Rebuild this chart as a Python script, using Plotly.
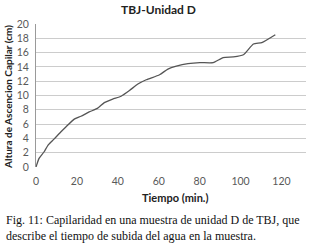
import plotly.graph_objects as go

tiempo = [0, 1.5, 3.9, 6.0, 8.8, 12.1, 14.6, 18.7, 22, 26, 30, 33.4, 37.5, 41.6, 45.7, 49.8, 53.9,
          60.4, 64.5, 68.6, 74.3, 80.1, 86.6, 91.5, 96.5, 101.4, 106.3, 110.4, 117]
altura = [0, 1.2, 2.1, 3.1, 3.9, 4.9, 5.6, 6.7, 7.1, 7.7, 8.2, 9.0, 9.5, 9.9, 10.7, 11.6, 12.2,
          12.9, 13.7, 14.1, 14.45, 14.6, 14.6, 15.3, 15.4, 15.7, 17.2, 17.4, 18.5]
x_ticks = [0, 20, 40, 60, 80, 100, 120]
y_ticks = [0, 2, 4, 6, 8, 10, 12, 14, 16, 18, 20]

W, H = 310, 251
L, R, T, B = 36, 4, 24, 84
ph = H - T - B

def py(p):
    return (H - B - p) / ph

def px(p):
    return (p - L) / (W - L - R)

fig = go.Figure(go.Scatter(x=tiempo, y=altura, mode="lines",
                           line=dict(color="#555555", width=1.3, shape="spline", smoothing=0.5),
                           showlegend=False))

tickfont = dict(family="Lato, Open Sans, sans-serif", size=10.5, color="#595959")
fig.update_layout(
    width=W, height=H, margin=dict(l=L, r=R, t=T, b=B),
    paper_bgcolor="white", plot_bgcolor="white",
    xaxis=dict(range=[0, 132], tickvals=x_ticks, showgrid=False, zeroline=False,
               showline=False, tickfont=tickfont, ticks="", ticklen=0, ticklabelstandoff=6),
    yaxis=dict(range=[0, 20], tickvals=y_ticks, showgrid=True, gridcolor="#cccccc", gridwidth=1,
               zeroline=False, showline=True, linecolor="#9a9a9a", linewidth=1,
               tickfont=tickfont, ticks="", ticklen=0, ticklabelstandoff=4),
    annotations=[
        dict(text="<b>TBJ-Unidad D</b>", x=px(158), y=py(9), xref="paper", yref="paper",
             xanchor="center", yanchor="middle",
             showarrow=False, font=dict(family="Lato, Open Sans, sans-serif", size=12, color="#222222")),
        dict(text="<b>Tiempo (min.)</b>", x=px(175), y=py(197), xref="paper", yref="paper",
             xanchor="center", yanchor="middle",
             showarrow=False, font=dict(family="Lato, Open Sans, sans-serif", size=11, color="#222222")),
        dict(text="<b>Altura de Ascencion Capilar (cm)</b>", x=px(8), y=py(97), xref="paper", yref="paper",
             xanchor="center", yanchor="middle",
             showarrow=False, textangle=-90,
             font=dict(family="Lato, Open Sans, sans-serif", size=10, color="#222222")),
        dict(text="Fig. 11: Capilaridad en una muestra de unidad D de TBJ, que<br>describe el tiempo de subida del agua en la muestra.",
             x=px(4), y=py(211), xref="paper", yref="paper", xanchor="left", yanchor="top",
             align="left", showarrow=False,
             font=dict(family="Liberation Serif, serif", size=12, color="#111111")),
    ],
)
fig.write_html("out.html")
